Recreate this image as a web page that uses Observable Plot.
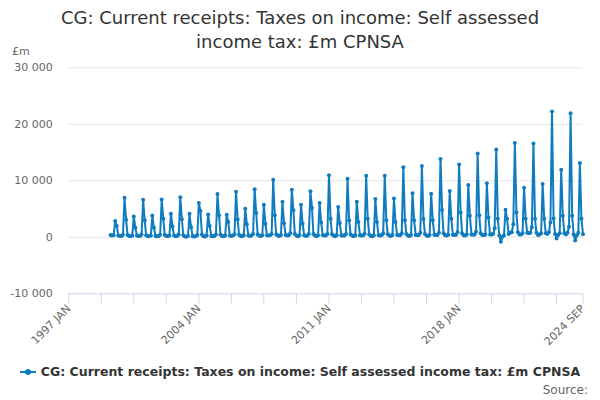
<!DOCTYPE html>
<html>
<head>
<meta charset="utf-8">
<script src="https://cdn.jsdelivr.net/npm/d3@7"></script>
<script src="https://cdn.jsdelivr.net/npm/@observablehq/plot@0.6"></script>
<style>
  body { margin: 0; background: #fff; font-family: "DejaVu Sans", sans-serif; }
  #wrap { width: 600px; height: 400px; position: relative; overflow: hidden; }
  #title { position: relative; height: 58px; box-sizing: border-box; padding: 6px 40px 0 40px;
           text-align: center; font-size: 18px; line-height: 24px; color: #333; }
  #unit { position: absolute; left: 12px; top: 45px; font-size: 11px; line-height: 14px; color: #666; }
  #chart svg { display: block; }
  #legend { margin-top: 12px; height: 20px; line-height: 20px; text-align: center; font-size: 12.5px;
            font-weight: bold; color: #333; white-space: nowrap; }
  .sym { display: inline-block; position: relative; width: 16px; height: 2px; vertical-align: middle;
         margin-right: 5px; margin-top: -2px; }
  .dot { position: absolute; left: 5px; top: -2px; width: 6px; height: 6px; border-radius: 50%; }
  #source { text-align: right; padding-right: 12px; font-size: 12px; line-height: 16px; color: #666; }
</style>
</head>
<body>
<div id="wrap">
  <div id="title">CG: Current receipts: Taxes on income: Self assessed income tax: £m CPNSA<div id="unit">£m</div></div>
  <div id="chart"></div>
  <div id="legend"><span class="sym" id="sym"><span class="dot" id="dot"></span></span>CG: Current receipts: Taxes on income: Self assessed income tax: £m CPNSA</div>
  <div id="source">Source:</div>
</div>
<script>
// Monthly values, £m, Jan..Dec (series starts April 1999, ends September 2024)
const v1999 = [null, null, null, 400, 300, 350, 2900, 2000, 300, 250, 250, 450];
const v2000 = [7000, 3100, 400, 250, 200, 300, 3700, 1700, 300, 250, 250, 500];
const v2001 = [6650, 3000, 350, 200, 250, 300, 3850, 1700, 250, 200, 250, 450];
const v2002 = [6700, 3300, 400, 250, 200, 300, 4150, 1900, 300, 200, 250, 500];
const v2003 = [7100, 3200, 350, 150, 100, 250, 4150, 1800, 200, 150, 200, 400];
const v2004 = [6050, 4650, 500, 200, 150, 300, 4050, 2000, 250, 200, 250, 500];
const v2005 = [7650, 3900, 450, 250, 200, 300, 4000, 2700, 300, 250, 300, 550];
const v2006 = [8050, 3200, 450, 250, 200, 350, 5050, 2300, 300, 250, 300, 600];
const v2007 = [8500, 4300, 500, 300, 250, 350, 5750, 2400, 350, 300, 350, 600];
const v2008 = [10200, 3900, 500, 300, 250, 400, 6300, 2500, 400, 300, 350, 700];
const v2009 = [8400, 4800, 600, 300, 200, 350, 5750, 2400, 350, 250, 300, 600];
const v2010 = [8150, 5200, 600, 300, 200, 350, 6050, 2600, 350, 300, 300, 600];
const v2011 = [11000, 3300, 550, 300, 200, 350, 5350, 2500, 300, 300, 300, 600];
const v2012 = [10350, 3000, 500, 300, 200, 350, 6300, 2700, 350, 300, 300, 650];
const v2013 = [10900, 3300, 500, 250, 200, 350, 6800, 2700, 350, 300, 350, 700];
const v2014 = [10900, 3000, 550, 300, 250, 400, 6850, 2700, 400, 350, 350, 700];
const v2015 = [12400, 3000, 600, 300, 250, 400, 7800, 3000, 400, 350, 400, 800];
const v2016 = [12600, 3250, 600, 300, 250, 400, 7700, 3000, 450, 400, 400, 800];
const v2017 = [13850, 4850, 700, 350, 300, 450, 8200, 3300, 450, 400, 450, 900];
const v2018 = [12900, 4400, 700, 350, 300, 500, 9250, 3800, 500, 450, 500, 1000];
const v2019 = [14850, 3900, 700, 400, 350, 500, 9550, 3500, 500, 500, 600, 1600];
const v2020 = [15550, 3300, 300, -800, 100, 300, 4870, 3270, 600, 800, 900, 2300];
const v2021 = [16700, 4400, 900, 500, 500, 700, 8750, 3270, 800, 700, 800, 1800];
const v2022 = [16600, 3270, 800, 400, 500, 700, 9450, 3270, 700, 600, 900, 2600];
const v2023 = [22250, 3320, 600, -200, 400, 700, 11950, 3800, 700, 500, 800, 1850];
const v2024 = [21950, 3800, 500, -550, 300, 800, 13150, 3270, 550];

const years = [1999, 2000, 2001, 2002, 2003, 2004, 2005, 2006, 2007, 2008, 2009, 2010, 2011,
               2012, 2013, 2014, 2015, 2016, 2017, 2018, 2019, 2020, 2021, 2022, 2023, 2024];
const yearValues = [v1999, v2000, v2001, v2002, v2003, v2004, v2005, v2006, v2007, v2008, v2009,
                    v2010, v2011, v2012, v2013, v2014, v2015, v2016, v2017, v2018, v2019, v2020,
                    v2021, v2022, v2023, v2024];

const monthNames = ["JAN","FEB","MAR","APR","MAY","JUN","JUL","AUG","SEP","OCT","NOV","DEC"];
const yTicks = [-10000, 0, 10000, 20000, 30000];
const xStart = [1997, 0];   // 1997 JAN
const xEnd = [2024, 8];     // 2024 SEP
const tickStepMonths = 21;
const labelledTicks = ["1997 JAN", "2004 JAN", "2011 JAN", "2018 JAN", "2024 SEP"];

const color = "#0f7cc0";
document.getElementById("sym").style.background = color;
document.getElementById("dot").style.background = color;

const data = [];
years.forEach((yr, i) => {
  yearValues[i].forEach((v, m) => {
    if (v != null) data.push({date: new Date(Date.UTC(yr, m, 1)), value: v});
  });
});

const startDate = new Date(Date.UTC(xStart[0], xStart[1], 1));
const endDate = new Date(Date.UTC(xEnd[0], xEnd[1], 1));
const xTicks = [];
for (let k = 0; ; k += tickStepMonths) {
  const d = new Date(Date.UTC(xStart[0], xStart[1] + k, 1));
  if (d > endDate) break;
  xTicks.push(d);
}
xTicks.push(endDate);
const dateLabel = d => `${d.getUTCFullYear()} ${monthNames[d.getUTCMonth()]}`;

const locale = d3.formatLocale({decimal: ".", thousands: " ", grouping: [3], currency: ["", ""], minus: "-"});
const fmt = locale.format(",");

const chart = Plot.plot({
  width: 600,
  height: 292,
  marginTop: 9.3,
  marginBottom: 56.7,
  marginLeft: 68.3,
  marginRight: 17.5,
  style: {fontFamily: "DejaVu Sans", fontSize: "11px", color: "#666", background: "#fff"},
  x: {type: "utc", domain: [startDate, endDate]},
  y: {domain: [yTicks[0], yTicks[yTicks.length - 1]]},
  marks: [
    Plot.gridY(yTicks.slice(1), {stroke: "#e6e6e6", strokeOpacity: 1}),
    Plot.ruleY([yTicks[0]], {stroke: "#ccd6eb", strokeOpacity: 1}),
    Plot.axisY(yTicks, {tickSize: 0, tickPadding: 16, tickFormat: fmt, fill: "#666", label: null}),
    Plot.axisX(xTicks, {
      tickSize: 10, tickPadding: 3, tickRotate: -45, stroke: "#ccd6eb", strokeOpacity: 1,
      fill: "#666", label: null,
      tickFormat: d => labelledTicks.includes(dateLabel(d)) ? dateLabel(d) : ""
    }),
    Plot.line(data, {x: "date", y: "value", stroke: color, strokeWidth: 2}),
    Plot.dot(data, {x: "date", y: "value", r: 2, fill: color})
  ]
});
document.getElementById("chart").appendChild(chart);
</script>
</body>
</html>
